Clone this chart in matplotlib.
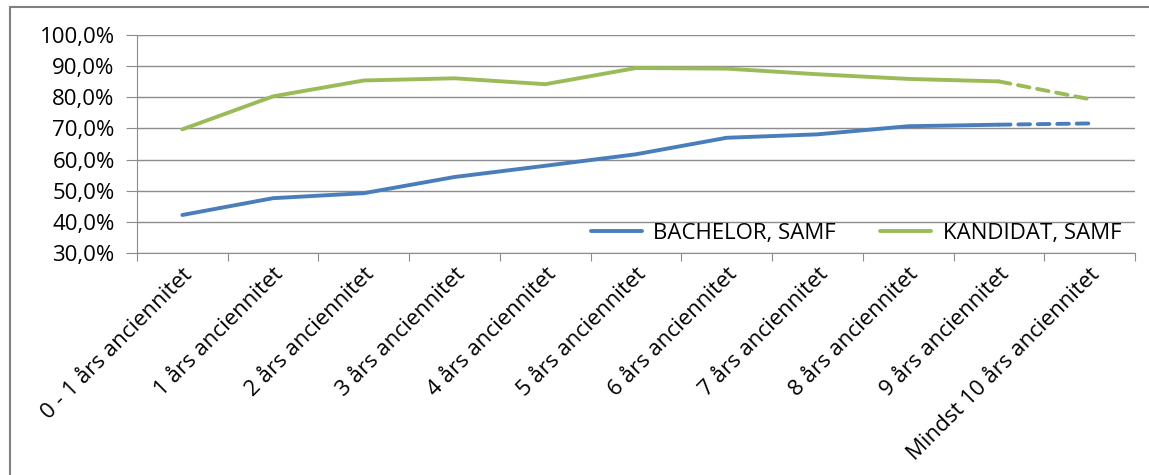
import matplotlib
matplotlib.use("Agg")
import matplotlib.pyplot as plt
from matplotlib.patches import Rectangle
from matplotlib.ticker import FuncFormatter

# ── Data ─────────────────────────────────────────────────────────────────────
categories = ["0 - 1 års anciennitet", "1 års anciennitet", "2 års anciennitet",
              "3 års anciennitet", "4 års anciennitet", "5 års anciennitet",
              "6 års anciennitet", "7 års anciennitet", "8 års anciennitet",
              "9 års anciennitet", "Mindst 10 års anciennitet"]
bachelor = [42.2, 47.6, 49.2, 54.4, 58.0, 61.7, 67.0, 68.1, 70.7, 71.2, 71.6]
kandidat = [69.7, 80.3, 85.4, 86.1, 84.2, 89.4, 89.2, 87.4, 85.9, 85.1, 79.4]
series_names = ["BACHELOR, SAMF", "KANDIDAT, SAMF"]

BLUE = "#4a7ebb"
GREEN = "#9bbb59"
GRID = "#8c8c8c"
FS = 16

plt.rcParams["font.family"] = ["Open Sans", "DejaVu Sans"]

fig = plt.figure(figsize=(11.49, 4.75), dpi=100)
ax = fig.add_axes([0.1192, 0.4674, 0.8686, 0.4589])

# outer chart border
fig.patches.append(Rectangle((10 / 1149, -0.05), 1.1, (475 - 7) / 475 + 0.05,
                             transform=fig.transFigure, fill=False,
                             edgecolor="#7f7f7f", lw=1.5))

x = list(range(len(categories)))
n = len(categories)
for vals, col, name in [(bachelor, BLUE, series_names[0]), (kandidat, GREEN, series_names[1])]:
    ax.plot(x[:-1], vals[:-1], color=col, lw=2.8, solid_capstyle="round", label=name)
    ax.plot(x[-2:], vals[-2:], color=col, lw=2.8, ls=(0, (3, 2)), dash_capstyle="round")

ax.set_xlim(-0.5, n - 0.5)
ax.set_ylim(30, 100)
ax.set_yticks(range(30, 101, 10))
ax.yaxis.set_major_formatter(FuncFormatter(lambda v, p: f"{v:.1f}%".replace(".", ",")))
ax.grid(axis="y", color=GRID, lw=1)
ax.set_axisbelow(True)

ax.set_xticks([i - 0.5 for i in range(n + 1)])
ax.set_xticklabels([])
ax.set_xticks(x, minor=True)
ax.set_xticklabels(categories, minor=True, rotation=45, ha="right",
                   rotation_mode="anchor", fontsize=FS)
ax.tick_params(axis="x", which="minor", length=0, pad=8)
ax.tick_params(axis="x", which="major", length=6, color=GRID, direction="out")
ax.tick_params(axis="y", length=8, color=GRID, labelsize=FS, pad=8)

for s in ["top", "right"]:
    ax.spines[s].set_visible(False)
for s in ["left", "bottom"]:
    ax.spines[s].set_color(GRID)

ax.legend(loc="lower right", ncol=2, frameon=False, fontsize=FS,
          handlelength=2.3, handletextpad=0.5, columnspacing=2.0,
          borderaxespad=0.0, bbox_to_anchor=(0.995, 0.0))

fig.savefig("out.png", dpi=100)
